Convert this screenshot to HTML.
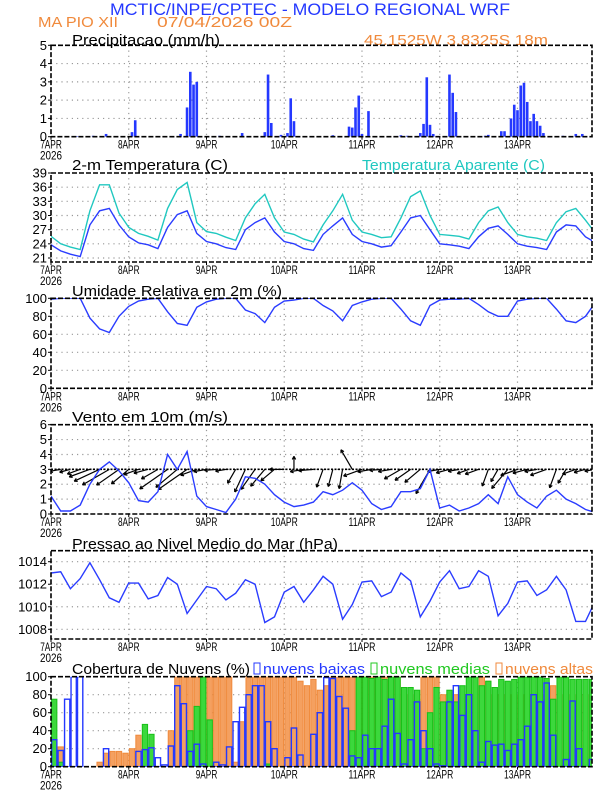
<!DOCTYPE html>
<html><head><meta charset="utf-8"><style>
html,body{margin:0;padding:0;background:#fff}
svg{display:block}
text{font-family:"Liberation Sans",sans-serif}
</style></head><body>
<svg id="chart" width="612" height="792" viewBox="0 0 612 792" xmlns="http://www.w3.org/2000/svg">
<text x="110" y="15" font-size="17" fill="#2438ff" textLength="400" lengthAdjust="spacingAndGlyphs">MCTIC/INPE/CPTEC - MODELO REGIONAL WRF</text>
<text x="38" y="27" font-size="15" fill="#f08a3c" textLength="80" lengthAdjust="spacingAndGlyphs">MA PIO XII</text>
<text x="157" y="27" font-size="15" fill="#f08a3c" textLength="135" lengthAdjust="spacingAndGlyphs">07/04/2026 00Z</text>
<text x="364" y="45" font-size="15" fill="#f08a3c" textLength="184" lengthAdjust="spacingAndGlyphs">45.1525W 3.8325S 18m</text>
<text x="72" y="45" font-size="15" fill="#000" textLength="148" lengthAdjust="spacingAndGlyphs">Precipitacao (mm/h)</text>
<text x="72" y="170" font-size="15" fill="#000" textLength="156" lengthAdjust="spacingAndGlyphs">2-m Temperatura (C)</text>
<text x="362" y="170" font-size="15" fill="#20c8c0" textLength="183" lengthAdjust="spacingAndGlyphs">Temperatura Aparente (C)</text>
<text x="72" y="296" font-size="15" fill="#000" textLength="210" lengthAdjust="spacingAndGlyphs">Umidade Relativa em 2m (%)</text>
<text x="72" y="422" font-size="15" fill="#000" textLength="156" lengthAdjust="spacingAndGlyphs">Vento em 10m (m/s)</text>
<text x="72" y="549" font-size="15" fill="#000" textLength="266" lengthAdjust="spacingAndGlyphs">Pressao ao Nivel Medio do Mar (hPa)</text>
<text x="72" y="674" font-size="15" fill="#000" textLength="178" lengthAdjust="spacingAndGlyphs">Cobertura de Nuvens (%)</text>
<rect x="254" y="663" width="6" height="11" fill="none" stroke="#2438ff"/>
<text x="263" y="674" font-size="15" fill="#2438ff" textLength="102" lengthAdjust="spacingAndGlyphs">nuvens baixas</text>
<rect x="371" y="663" width="6" height="11" fill="none" stroke="#20c820"/>
<text x="380" y="674" font-size="15" fill="#20c820" textLength="110" lengthAdjust="spacingAndGlyphs">nuvens medias</text>
<rect x="496" y="663" width="6" height="11" fill="none" stroke="#f08a3c"/>
<text x="505" y="674" font-size="15" fill="#f08a3c" textLength="88" lengthAdjust="spacingAndGlyphs">nuvens altas</text>
</svg>
<script>
// ---- data ----
const dayLabels=["7APR","8APR","9APR","10APR","11APR","12APR","13APR"];
const precipHours=[8,13,17,25,26,40,42,43,44,45,52,59,66,67,68,71,73,74,75,87,92,93,94,95,96,98,108,110,114,115,116,117,118,123,124,125,134,135,139,140,142,143,144,145,146,147,148,149,150,151,152,158,162,164];
const precipVals=[0.03,0.05,0.15,0.25,0.9,0.15,1.6,3.55,2.85,3.0,0.05,0.2,0.25,3.4,0.75,0.1,0.2,2.1,0.85,0.08,0.55,0.5,1.6,2.25,0.15,1.4,0.08,0.05,0.2,0.7,3.25,0.65,0.15,3.4,2.4,1.35,0.05,0.1,0.3,0.3,1.0,1.75,1.45,2.8,2.95,1.9,0.85,1.25,0.85,0.6,0.2,0.05,0.15,0.15];
const precipTicks=[0,1,2,3,4,5];
const temp=[23.8,22.5,21.8,21.3,28,31,31.5,28,25.5,24.2,23.8,23,27.5,30.2,31,26.2,24.5,24,23.2,22.8,27,28.5,29.5,26.5,24.5,24,23,22.6,26,27.8,29.5,26,24.5,24,23.3,23.6,26.5,29.5,30,27,24,23.8,23.5,23,25.5,27.3,27.8,26,24,23.5,23.2,22.8,26.5,28,27.8,25.5,24.3];
const tempApp=[25.6,24,23.3,22.8,31,36.5,36.5,30.5,27.5,26.2,25.6,24.8,31.5,35.5,37,28.5,26.6,26.2,25.4,24.7,29.5,32.5,34.5,29.5,26.5,26,25,24.4,28,31,34.5,29,26.5,26,25.3,25.5,29.5,34,35.2,30,26,25.8,25.6,25,28.5,31,31.8,28.5,26,25.5,25.2,24.7,28.5,30.8,31.5,29,26.3];
const tempTicks=[21,24,27,30,33,36,39];
const rh=[99,100,100,100,78,66,62,80,91,97,99,100,85,72,70,90,96,99,100,100,87,83,73,90,97,98,100,100,92,86,75,92,96,99,100,100,88,75,70,92,98,99,99,100,93,85,80,80,97,99,100,100,88,75,73,80,95];
const rhTicks=[0,20,40,60,80,100];
const windSpeed=[1.2,0.2,0.2,0.6,2.0,3.0,3.5,2.9,2.1,0.9,0.8,1.5,4.0,3.0,4.2,1.2,0.5,0.3,0.1,1.0,2.5,2.4,2.0,1.3,0.8,0.5,0.6,0.8,1.5,1.3,1.6,2.1,1.6,0.7,0.3,0.5,1.5,1.5,1.7,3.0,0.4,0.6,0.2,0.4,0.7,1.3,0.7,2.5,1.3,0.8,0.4,1.2,1.6,1.0,0.7,0.3,0.1];
const windDir=[190,190,195,200,200,205,210,215,220,200,195,210,215,220,215,200,190,185,190,240,245,235,230,220,180,90,190,185,250,255,260,120,200,190,185,190,210,215,220,240,190,195,190,200,200,250,240,230,200,195,190,200,250,240,200,195,190];
const windTicks=[0,1,2,3,4,5,6];
const pressure=[1013.0,1013.1,1011.6,1012.5,1013.9,1012.4,1010.8,1010.4,1012.1,1012.1,1010.7,1011.0,1012.6,1012.0,1009.4,1010.6,1011.8,1011.6,1010.6,1011.2,1012.4,1012.0,1008.6,1009.1,1011.3,1011.8,1010.4,1011.5,1012.7,1012.0,1008.9,1010.2,1012.2,1012.3,1010.9,1011.3,1013.0,1012.3,1009.1,1010.5,1012.2,1013.2,1011.6,1011.8,1013.2,1012.7,1009.2,1010.3,1012.2,1012.3,1011.0,1011.5,1012.7,1011.5,1008.7,1008.7,1010.5];
const pressureTicks=[1008,1010,1012,1014];
const cloudLow=[30,18,75,100,100,0,0,0,20,0,0,0,0,17,19,21,10,2,23,90,70,17,25,3,0,5,2,22,50,66,80,90,90,50,20,0,10,43,13,0,36,60,99,98,78,65,12,10,35,20,20,45,75,37,3,30,72,40,20,3,1,72,90,57,80,40,5,28,24,25,18,25,30,45,80,72,93,35,0,8,73,20,0,8];
const cloudMid=[75,5,0,0,0,0,0,0,0,0,0,0,0,0,47,36,0,0,0,0,0,40,67,100,52,0,0,0,0,0,0,0,0,3,0,0,0,0,0,0,0,0,0,0,0,0,40,100,100,98,100,97,100,100,88,88,85,20,60,88,72,85,72,90,100,100,90,95,88,97,95,97,100,100,100,100,98,75,100,100,97,97,97,97];
const cloudHigh=[0,22,0,0,0,0,0,5,15,17,17,15,20,35,0,0,0,0,40,100,100,100,100,100,100,100,100,100,5,50,100,100,100,100,100,100,100,100,95,90,97,85,90,100,100,100,100,100,100,100,100,100,100,100,80,80,75,100,100,100,80,80,80,80,80,80,100,95,80,80,80,80,80,80,80,80,80,90,80,80,80,80,80,80];
const cloudTicks=[0,20,40,60,80,100];

// ---- layout ----
const NS="http://www.w3.org/2000/svg";
const svg=document.getElementById('chart');
const X0=51,X1=592,HMAX=167;
function xh(h){return X0+h*(X1-X0)/HMAX;}
function mk(tag,attrs,parent){const e=document.createElementNS(NS,tag);for(const k in attrs)e.setAttribute(k,attrs[k]);(parent||svg).appendChild(e);return e;}
function lin(v0,y0,v1,y1){return v=>y0+(v-v0)*(y1-y0)/(v1-v0);}

const panels=[
 {id:'precip',top:45.3,bot:136.7,y:lin(0,136.7,5,45.3),ticks:precipTicks},
 {id:'temp',top:173,bot:262,y:lin(21,258,39,173),ticks:tempTicks},
 {id:'rh',top:298.3,bot:388.3,y:lin(0,388.3,100,298.3),ticks:rhTicks},
 {id:'wind',top:424.7,bot:514,y:lin(0,514,6,424.7),ticks:windTicks},
 {id:'pressure',top:550.7,bot:639,y:lin(1008,629.3,1014,561.7),ticks:pressureTicks},
 {id:'cloud',top:676.7,bot:766.7,y:lin(0,766.7,100,676.7),ticks:cloudTicks}
];
const P={};
panels.forEach(p=>{
 P[p.id]=p;
 const g=mk('g',{});
 
 
 p.g=g;
 const cp=mk('clipPath',{id:'clip-'+p.id},g);
 mk('rect',{x:X0,y:p.top,width:X1-X0,height:p.bot-p.top},cp);
 p.ticks.forEach(t=>{
  const yy=p.y(t);
  if(yy>p.top+1&&yy<p.bot-1){const l=mk('line',{x1:X0,x2:X1,y1:yy,y2:yy,stroke:'#999','stroke-width':1.2,'stroke-dasharray':'1.2,4'},g);
  
  }
  const tl=mk('text',{x:47,y:yy+4.5,'font-size':13,'text-anchor':'end',fill:'#000'},g);
  
  
  tl.textContent=t;
  mk('line',{x1:X0-3,x2:X0,y1:yy,y2:yy,stroke:'#000'},g);
 });
 dayLabels.forEach((d,i)=>{
  const xx=xh(i*24);
  if(i>0){const l=mk('line',{x1:xx,x2:xx,y1:p.top,y2:p.bot,stroke:'#999','stroke-width':1.2,'stroke-dasharray':'1.2,4'},g);
  
  }
  mk('line',{x1:xx,x2:xx,y1:p.bot,y2:p.bot+3,stroke:'#000'},g);
  const tl=mk('text',{x:xx,y:p.bot+12,'font-size':12,'text-anchor':'middle',fill:'#000',textLength:d.length*5.4,lengthAdjust:'spacingAndGlyphs'},g);
  
  
  tl.textContent=d;
 });
 const yl=mk('text',{x:X0,y:p.bot+23,'font-size':12,'text-anchor':'middle',fill:'#000',textLength:22,lengthAdjust:'spacingAndGlyphs'},g);
 
 
 yl.textContent='2026';
 p.plot=mk('g',{'clip-path':'url(#clip-'+p.id+')'},g);
});

function drawLine(p,arr,step,color,name){
 const pts=arr.map((v,i)=>xh(i*step).toFixed(1)+','+p.y(v).toFixed(1)).join(' ');
 const l=mk('polyline',{points:pts,fill:'none',stroke:color,'stroke-width':1.4},p.plot);
 
 
}

precipHours.forEach((h,i)=>{
 const p=P.precip,yy=p.y(precipVals[i]);
 const r=mk('rect',{x:xh(h)-1.3,y:yy,width:2.6,height:p.y(0)-yy,fill:'#2438ff'},p.plot);
 
 
});
drawLine(P.temp,tempApp,3,'#20c8c0','apparent-temp-line');
drawLine(P.temp,temp,3,'#2a3cff','temp-line');
drawLine(P.rh,rh,3,'#2a3cff','rh-line');
// wind arrows
const wb=mk('line',{x1:X0,x2:X1,y1:P.wind.y(3),y2:P.wind.y(3),stroke:'#000','stroke-width':1.6,'stroke-dasharray':'2,1.5'},P.wind.plot);


windSpeed.forEach((s,i)=>{
 const p=P.wind,x0=xh(i*3),y0=p.y(3);
 const a=windDir[i]*Math.PI/180,L=10+6*s;
 const x1=x0+L*Math.cos(a),y1=y0-L*Math.sin(a);
 const g=mk('g',{stroke:'#000','stroke-width':1.2,fill:'none'},p.plot);
 
 
 mk('line',{x1:x0,y1:y0,x2:x1,y2:y1},g);
 const hl=3.5;
 [a+Math.PI-0.5,a+Math.PI+0.5].forEach(b=>mk('line',{x1:x1,y1:y1,x2:x1+hl*Math.cos(b),y2:y1-hl*Math.sin(b)},g));
});
drawLine(P.wind,windSpeed,3,'#2a3cff','wind-speed-line');
drawLine(P.pressure,pressure,3,'#2a3cff','pressure-line');
function cloudBars(arr,fill,stroke,name,sw){
 const p=P.cloud;
 arr.forEach((v,i)=>{
  if(v<=0)return;
  const x0=xh(i*2),x1=xh(i*2+2),yy=p.y(v);
  const r=mk('rect',{x:x0+0.6,y:yy,width:x1-x0-1.2,height:p.y(0)-yy,fill:fill,stroke:stroke,'stroke-width':sw},p.plot);
  
  
 });
}
cloudBars(cloudHigh,'#f4a060','#f08a3c','cloud-high-bar',1);
cloudBars(cloudMid,'#3cd83c','#18c018','cloud-mid-bar',1);
cloudBars(cloudLow,'none','#2438ff','cloud-low-bar',1.4);

panels.forEach(p=>{
 const f=mk('rect',{x:X0,y:p.top,width:X1-X0,height:p.bot-p.top,fill:'none',stroke:'#000','stroke-width':1.6,'stroke-dasharray':'5,2'},p.g);
 
 
});
</script>
</body></html>
